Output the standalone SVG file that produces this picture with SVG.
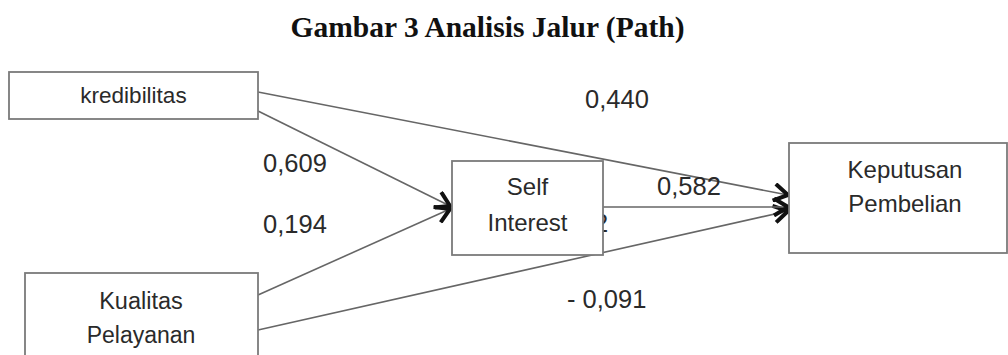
<svg xmlns="http://www.w3.org/2000/svg" width="1008" height="355" viewBox="0 0 1008 355">
<defs>
<style>
.box{fill:#fff;stroke:#7a7a7a;stroke-width:1.8}
.lbl{font-family:"Liberation Sans",Arial,sans-serif;fill:#2a2a2a;text-anchor:middle}
.num{font-family:"Liberation Sans",Arial,sans-serif;font-size:25.5px;fill:#2a2a2a}
.edge{stroke:#666;stroke-width:1.6;fill:none}
.title{font-family:"Liberation Serif","Times New Roman",serif;font-weight:bold;font-size:29.5px;fill:#111;text-anchor:middle}
</style>
<marker id="arr" markerUnits="userSpaceOnUse" viewBox="0 0 18 20" refX="16" refY="10" markerWidth="18" markerHeight="20" orient="auto">
<path d="M2,1.5 L16,10 L2,18.5" fill="none" stroke="#111" stroke-width="4" stroke-linejoin="miter"/>
</marker>
</defs>
<rect width="1008" height="355" fill="#fff"/>
<text class="title" x="487.5" y="37">Gambar 3 Analisis Jalur (Path)</text>

<g id="connectors">
<line class="edge" x1="258" y1="92" x2="788" y2="195" marker-end="url(#arr)"/>
<line class="edge" x1="258" y1="111" x2="450" y2="206" marker-end="url(#arr)"/>
<line class="edge" x1="258" y1="295" x2="450" y2="209" marker-end="url(#arr)"/>
<line class="edge" x1="258" y1="330" x2="788" y2="211" marker-end="url(#arr)"/>
<line class="edge" x1="603" y1="207" x2="788" y2="207" marker-end="url(#arr)"/>
</g>

<text class="num" x="594" y="232">2</text>

<g id="kredibilitas">
<rect class="box" x="9" y="72" width="249" height="47"/>
<text class="lbl" x="133.5" y="103" font-size="22.5">kredibilitas</text>
</g>
<g id="self-interest">
<rect class="box" x="452" y="161" width="151" height="94"/>
<text class="lbl" x="527.5" y="195" font-size="24">Self</text>
<text class="lbl" x="527.5" y="231" font-size="24">Interest</text>
</g>
<g id="keputusan-pembelian">
<rect class="box" x="789" y="143" width="218" height="110"/>
<text class="lbl" x="905" y="178" font-size="24">Keputusan</text>
<text class="lbl" x="905" y="212" font-size="24">Pembelian</text>
</g>
<g id="kualitas-pelayanan">
<rect class="box" x="25" y="273" width="233" height="100"/>
<text class="lbl" x="141" y="309" font-size="23.5">Kualitas</text>
<text class="lbl" x="141" y="343" font-size="23">Pelayanan</text>
</g>

<g id="labels">
<text class="num" x="585" y="108">0,440</text>
<text class="num" x="263" y="172">0,609</text>
<text class="num" x="263" y="233">0,194</text>
<text class="num" x="657" y="195">0,582</text>
<text class="num" x="567" y="308">- 0,091</text>
</g>
</svg>
